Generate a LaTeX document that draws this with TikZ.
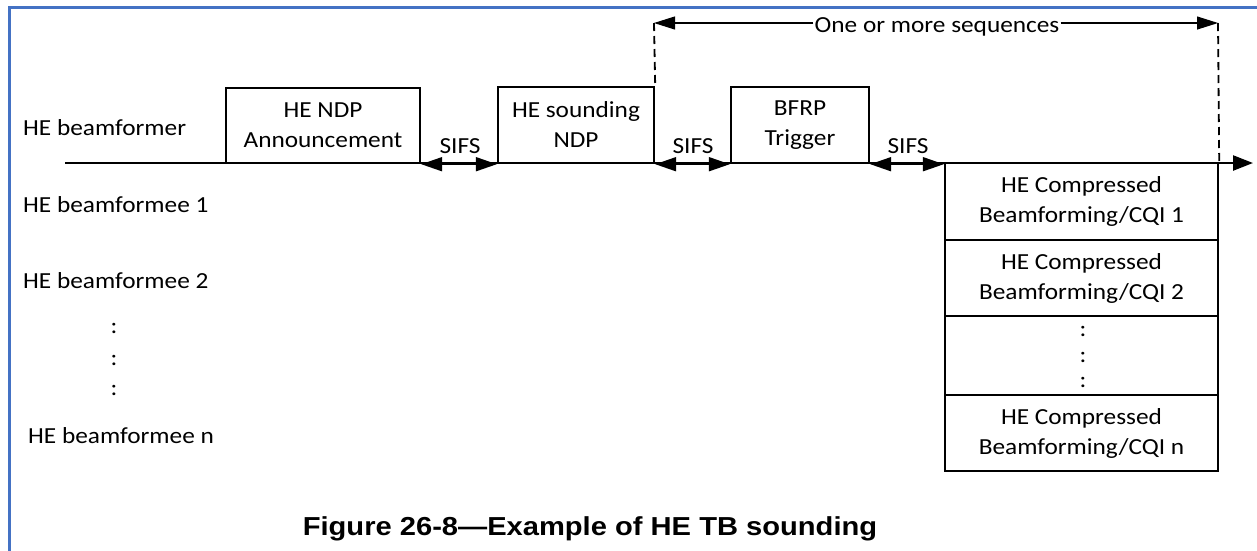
\documentclass[tikz,border=0pt]{standalone}
\usepackage{fontspec}
\setmainfont{Carlito}[FakeStretch=1.1]
\newfontfamily\capfont{Liberation Sans}[FakeStretch=1.12]
\usetikzlibrary{arrows.meta}
\definecolor{frameblue}{HTML}{4472C4}
\begin{document}
\begin{tikzpicture}[x=1pt,y=-1pt,
  box/.style={draw, line width=2.4pt, inner sep=0pt, align=center, font=\fontsize{23}{30}\selectfont},
  lbl/.style={inner sep=0pt, anchor=base west, font=\fontsize{23}{30}\selectfont},
  txt/.style={inner sep=0pt, anchor=base, font=\fontsize{23}{30}\selectfont},
  dotmark/.style={inner sep=0pt, font=\fontsize{23}{30}\selectfont},
  tipend/.style={-{Triangle[length=20pt,width=15pt]}},
  tipboth/.style={{Triangle[length=21pt,width=14pt]}-{Triangle[length=21pt,width=14pt]}},
  thintip/.style={-{Triangle[length=21pt,width=13pt]}},
  dashline/.style={dash pattern=on 8pt off 5pt, line width=1.8pt}]
\useasboundingbox (0,0) rectangle (1257,550);
\fill[white] (0,0) rectangle (1257,550);
\draw[frameblue, line width=3pt] (9,551) -- (9,7) -- (1258,7);

% labels on the left
\node[lbl] (bf) at (23,135) {HE beamformer};
\node[lbl] (be1) at (23,212) {HE beamformee 1};
\node[lbl] (be2) at (23,288) {HE beamformee 2};
\node[dotmark] (ld1) at (114,328) {:};
\node[dotmark] (ld2) at (114,360) {:};
\node[dotmark] (ld3) at (114,390) {:};
\node[lbl] (ben) at (28,443) {HE beamformee n};

% frames of the beamformer
\node[box, minimum width=194pt, minimum height=75pt] (ndpa) at (323,125.5) {HE NDP\\Announcement};
\node[box, minimum width=156pt, minimum height=76pt] (ndp) at (576,125) {HE sounding\\NDP};
\node[box, minimum width=138pt, minimum height=76pt] (bfrp) at (800,125) {BFRP\\Trigger};

% frames of the beamformees
\node[box, minimum width=273pt, minimum height=77pt] (cbf1) at (1081.5,201.5) {HE Compressed\\Beamforming/CQI 1};
\node[box, minimum width=273pt, minimum height=76pt] (cbf2) at (1081.5,278) {HE Compressed\\Beamforming/CQI 2};
\node[box, minimum width=273pt, minimum height=79pt] (cdots) at (1081.5,355.5) {};
\node[dotmark] (cd1) at (1083,331) {:};
\node[dotmark] (cd2) at (1083,357) {:};
\node[dotmark] (cd3) at (1083,382) {:};
\node[box, minimum width=273pt, minimum height=76pt] (cbfn) at (1081.5,433) {HE Compressed\\Beamforming/CQI n};

% time line
\coordinate (t0) at (65,163);
\coordinate (t1) at (1253,163);
\draw[line width=2.4pt, tipend] (t0) -- (t1);

% SIFS gaps
\draw[line width=1.8pt, tipboth] (ndpa.south east) -- (ndp.south west);
\draw[line width=1.8pt, tipboth] (ndp.south east) -- (bfrp.south west);
\draw[line width=1.8pt, tipboth] (bfrp.south east) -- (cbf1.south west |- bfrp.south east);
\node[txt] (s1) at (460,153) {SIFS};
\node[txt] (s2) at (693,153) {SIFS};
\node[txt] (s3) at (908,153) {SIFS};

% one or more sequences
\node[txt, inner xsep=1pt] (oms) at (937,32) {One or more sequences};
\coordinate (dl) at (654,23);
\coordinate (dr) at (1218,23);
\draw[line width=1.1pt, thintip] (oms.west |- dl) -- (dl);
\draw[line width=1.1pt, thintip] (oms.east |- dr) -- (dr);
\draw[dashline] (dl) -- (ndp.north east);
\draw[dashline] (dr) -- (cbf1.north east);

% caption
\node[inner sep=0pt, anchor=base, font=\capfont\bfseries\fontsize{26}{30}\selectfont] (cap) at (590,535) {Figure 26-8—Example of HE TB sounding};
\end{tikzpicture}
\end{document}
